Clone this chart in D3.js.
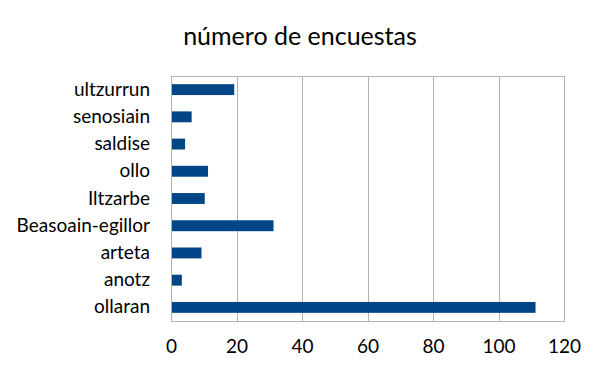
<!DOCTYPE html>
<html>
<head>
<meta charset="utf-8">
<script src="https://cdn.jsdelivr.net/npm/d3@7"></script>
<style>
  body { margin: 0; background: #fff; }
  text { font-family: Lato, "Open Sans", sans-serif; fill: #000; }
</style>
</head>
<body>
<svg id="chart" width="604" height="375"></svg>
<script>
  var categories = ['ultzurrun', 'senosiain', 'saldise', 'ollo', 'Iltzarbe', 'Beasoain-egillor', 'arteta', 'anotz', 'ollaran'];
  var values = [19, 6, 4, 11, 10, 31, 9, 3, 111];
  var ticks = [0, 20, 40, 60, 80, 100, 120];
  var title = 'número de encuestas';

  (function() {
    var svg = d3.select('#chart');
    var pLeft = 171, pRight = 564, pTop = 76, pBottom = 321;
    var font = 'Lato, "Open Sans", sans-serif';

    var x = d3.scaleLinear().domain([0, 120]).range([pLeft, pRight]);
    var y = d3.scaleBand().domain(categories).range([pTop, pBottom]).paddingInner(0.6).paddingOuter(0.3);

    svg.append('text')
      .attr('x', 300).attr('y', 45)
      .attr('text-anchor', 'middle')
      .style('font-size', '25px')
      .text(title);

    // grid
    svg.append('g').selectAll('line').data(ticks).enter().append('line')
      .attr('x1', function(d) { return Math.round(x(d)) + 0.5; })
      .attr('x2', function(d) { return Math.round(x(d)) + 0.5; })
      .attr('y1', pTop).attr('y2', pBottom)
      .attr('stroke', '#b3b3b3').attr('stroke-width', 1);

    svg.append('rect')
      .attr('x', pLeft + 0.5).attr('y', pTop + 0.5)
      .attr('width', pRight - pLeft).attr('height', pBottom - pTop)
      .attr('fill', 'none').attr('stroke', '#b3b3b3');

    svg.append('g').selectAll('rect').data(values).enter().append('rect')
      .attr('x', x(0) + 1)
      .attr('y', function(d, i) { return y(categories[i]); })
      .attr('width', function(d) { return x(d) - x(0); })
      .attr('height', y.bandwidth())
      .attr('fill', '#004586');

    var xAxis = svg.append('g')
      .attr('transform', 'translate(0,' + pBottom + ')')
      .call(d3.axisBottom(x).tickValues(ticks).tickSize(0).tickPadding(19));
    xAxis.select('.domain').remove();
    xAxis.selectAll('text').style('font-size', '19px').style('font-family', font).attr('fill', '#000');

    var yAxis = svg.append('g')
      .attr('transform', 'translate(' + pLeft + ',0)')
      .call(d3.axisLeft(y).tickSize(0).tickPadding(21));
    yAxis.select('.domain').remove();
    yAxis.selectAll('text').style('font-size', '19px').style('font-family', font).attr('fill', '#000');
  })();
</script>
</body>
</html>
